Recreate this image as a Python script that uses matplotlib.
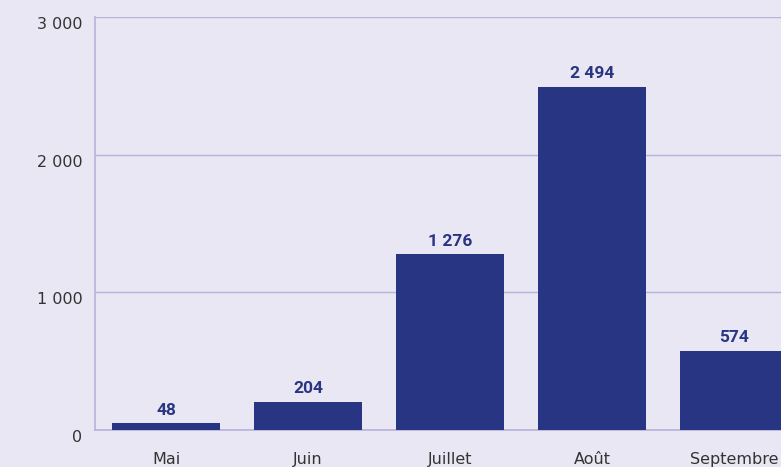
import matplotlib

matplotlib.use("Agg")
import matplotlib.pyplot as plt
import numpy as np

# ---- data ----
months = ["Mai", "Juin", "Juillet", "Août", "Septembre"]
values = [48, 204, 1276, 2494, 574]
y_ticks = [0, 1000, 2000, 3000]

BG = "#e9e7f4"
BAR = "#283583"
GRID = "#b7b2da"
TXT = "#333333"


def fmt(v):
    return f"{v:,}".replace(",", " ")


fig = plt.figure(figsize=(7.81, 4.67), dpi=100, facecolor=BG)
ax = fig.add_axes([95 / 781, 37 / 467, 1 - 95 / 781, 413 / 467])
ax.set_facecolor(BG)

x = np.arange(len(months))
ax.bar(x, values, width=0.76, color=BAR, zorder=3)

for xi, v in zip(x, values):
    ax.annotate(fmt(v), (xi, v), xytext=(0, 4), textcoords="offset points",
                ha="center", va="bottom", color=BAR, fontsize=12.5,
                fontweight="bold", family="Roboto")

ax.set_xlim(-0.5, 4.33)
ax.set_ylim(0, 3000)
ax.set_yticks(y_ticks)
ax.set_yticklabels([fmt(t) for t in y_ticks])
ax.set_xticks(x)
ax.set_xticklabels(months)

ax.grid(axis="y", color=GRID, lw=1, zorder=0)
ax.tick_params(axis="both", length=0, labelsize=11.5, labelcolor=TXT)
ax.tick_params(axis="y", pad=9)
ax.tick_params(axis="x", pad=16)
for lab in ax.get_yticklabels():
    lab.set_verticalalignment("top")
    lab.set_family("DejaVu Sans")

for side in ["top", "right"]:
    ax.spines[side].set_visible(False)
for side in ["left", "bottom"]:
    ax.spines[side].set_color(GRID)
    ax.spines[side].set_linewidth(1.2)

fig.savefig("out.png", dpi=100, facecolor=BG)
